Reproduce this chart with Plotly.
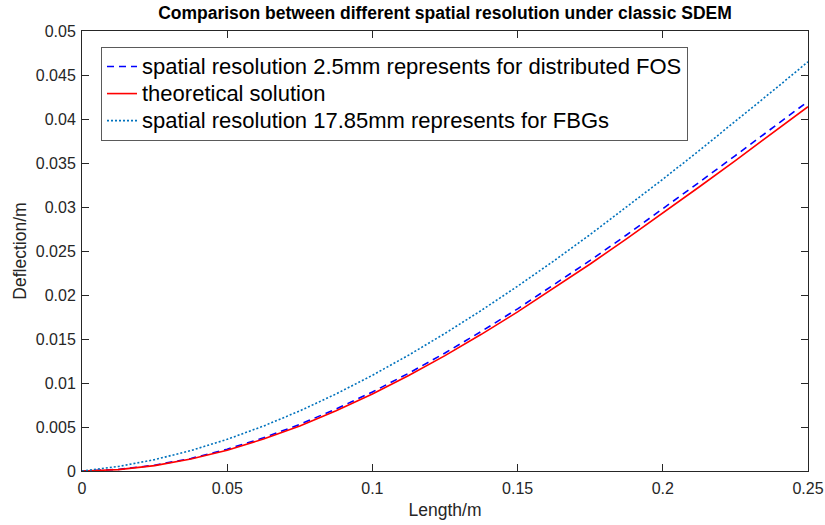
import plotly.graph_objects as go

length_m = [0, 0.0125, 0.025, 0.0375, 0.05, 0.0625, 0.075, 0.0875, 0.1, 0.1125, 0.125,
            0.1375, 0.15, 0.1625, 0.175, 0.1875, 0.2, 0.2125, 0.225, 0.2375, 0.25]

fos_2p5mm = [0, 0.00018, 0.00066, 0.00143, 0.00248, 0.00377, 0.00530, 0.00705, 0.00898,
             0.01111, 0.01341, 0.01586, 0.01843, 0.02113, 0.02393, 0.02682, 0.02978,
             0.03280, 0.03585, 0.03892, 0.04200]

theoretical = [0, 0.000156, 0.000614, 0.001356, 0.002366, 0.003627, 0.005122, 0.006835,
               0.008750, 0.010849, 0.013115, 0.015533, 0.018080, 0.020753, 0.023524,
               0.026379, 0.029300, 0.032272, 0.035279, 0.038303, 0.041400]

fbg_17p85mm = [0, 0.000511, 0.00129, 0.002324, 0.0036, 0.005106, 0.00683, 0.008757,
               0.010875, 0.013172, 0.015634, 0.018247, 0.021, 0.02388, 0.026874, 0.029968,
               0.03315, 0.036406, 0.039727, 0.043096, 0.0465]

x_ticks = [0, 0.05, 0.1, 0.15, 0.2, 0.25]
x_ticklabels = ["0", "0.05", "0.1", "0.15", "0.2", "0.25"]
y_ticks = [0, 0.005, 0.01, 0.015, 0.02, 0.025, 0.03, 0.035, 0.04, 0.045, 0.05]
y_ticklabels = ["0", "0.005", "0.01", "0.015", "0.02", "0.025", "0.03", "0.035", "0.04", "0.045", "0.05"]

names = ["spatial resolution 2.5mm represents for distributed FOS",
         "theoretical solution",
         "spatial resolution 17.85mm represents for FBGs"]

FONT = "Liberation Sans, Arial, sans-serif"
AX = "#262626"


def big(s):
    return '<span style="font-size:22px">' + s + '</span>'


fig = go.Figure()
fig.add_trace(go.Scatter(x=length_m, y=fos_2p5mm, mode="lines", name=big(names[0]),
                         line=dict(color="#0000ff", width=1.6, dash="7px,5px")))
fig.add_trace(go.Scatter(x=length_m, y=theoretical, mode="lines", name=big(names[1]),
                         line=dict(color="#ff0000", width=1.6)))
fig.add_trace(go.Scatter(x=length_m, y=fbg_17p85mm, mode="lines", name=big(names[2]),
                         line=dict(color="#0072BD", width=1.6, dash="2px,2px")))

fig.update_layout(
    width=825, height=525,
    margin=dict(l=82, r=17, t=31, b=54),
    paper_bgcolor="white", plot_bgcolor="white",
    font=dict(family=FONT, color=AX),
    title=dict(text="<b>Comparison between different spatial resolution under classic SDEM</b>",
               x=(82 + 808) / 2 / 825, xanchor="center", y=1 - 13 / 525, yanchor="middle",
               font=dict(size=17.5, color="black", family=FONT)),
    legend=dict(x=19 / 726, y=1 - 16 / 440, xanchor="left", yanchor="top",
                bgcolor="white", bordercolor="#5a5a5a", borderwidth=1,
                font=dict(size=18.5, color="black", family=FONT),
                itemwidth=30, tracegroupgap=0),
    showlegend=True,
)
fig.update_xaxes(range=[0, 0.25], tickvals=x_ticks, ticktext=x_ticklabels,
                 showline=True, linecolor=AX, linewidth=1, mirror="allticks",
                 ticks="inside", ticklen=7, tickcolor=AX, showgrid=False, zeroline=False,
                 tickfont=dict(size=16, color=AX), automargin=False, ticklabelstandoff=3,
                 title=dict(text="Length/m", font=dict(size=17.5, color=AX), standoff=7))
fig.update_yaxes(range=[0, 0.05], tickvals=y_ticks, ticktext=y_ticklabels,
                 showline=True, linecolor=AX, linewidth=1, mirror="allticks",
                 ticks="inside", ticklen=7, tickcolor=AX, showgrid=False, zeroline=False,
                 tickfont=dict(size=16, color=AX), automargin=False, ticklabelstandoff=2,
                 title=dict(text="Deflection/m", font=dict(size=17.5, color=AX), standoff=4))

fig.write_html("out.html")
